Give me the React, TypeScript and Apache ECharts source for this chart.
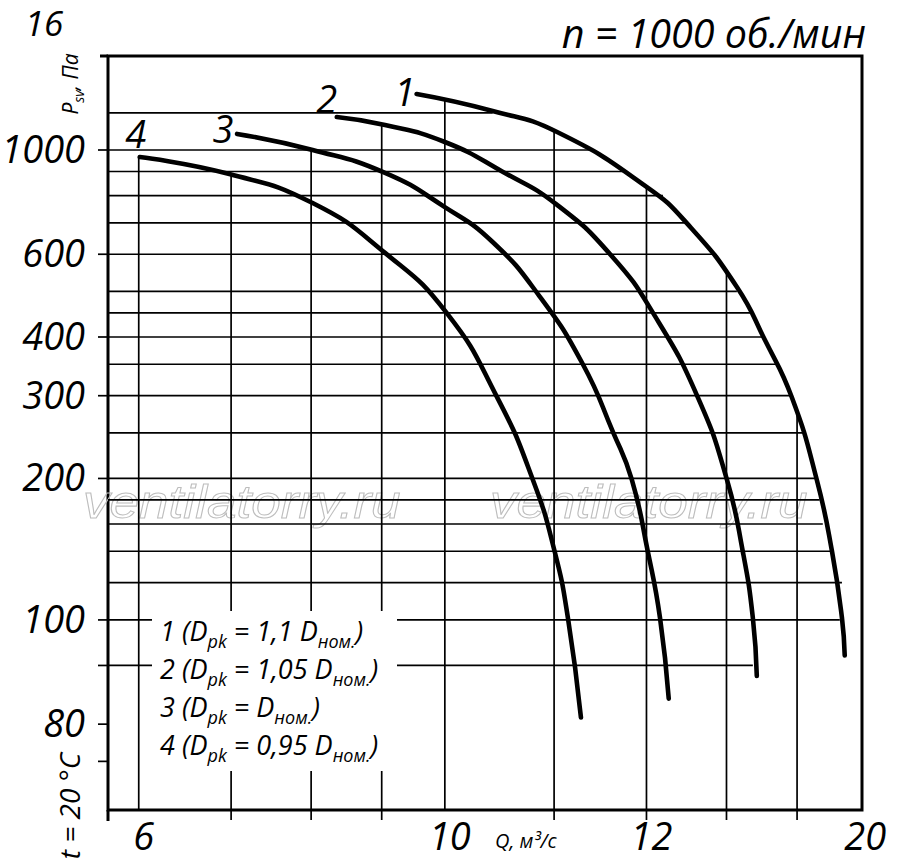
import React, { useEffect, useRef } from "react";
import * as echarts from "echarts";

// ---- axis extents (log-log) ----
const Q_MIN = 5.7;
const Q_MAX = 20.06;
const P_MIN = 39.4;
const P_MAX = 1585;

// ---- fan curves: Q (m³/s) and static pressure P (Pa) ----
const curve1Q = [9.54, 10.83, 12.06, 14.01, 15.02, 16.28, 17.06, 17.84, 18.6, 19.08, 19.4, 19.49];
const curve1P = [1316, 1211, 1092, 834, 692, 511, 394, 298, 199, 140, 101, 84];

const curve2Q = [8.35, 9.05, 10.0, 11.02, 12.06, 13.21, 14.2, 15.25, 16.01, 16.44, 16.72, 16.83];
const curve2P = [1175, 1130, 1040, 898, 764, 595, 443, 298, 199, 140, 101, 76];

const curve3Q = [7.07, 8.02, 9.05, 10.0, 10.83, 11.72, 12.59, 13.24, 13.66, 14.03, 14.32, 14.53];
const curve3P = [1082, 1000, 894, 756, 637, 487, 350, 251, 199, 140, 101, 68];

const curve4Q = [6.01, 6.98, 8.02, 9.05, 10.03, 10.91, 11.58, 12.01, 12.28, 12.55];
const curve4P = [966, 889, 771, 604, 450, 298, 199, 140, 101, 62];

const curveNames = ["1", "2", "3", "4"];

// ---- hand-drawn grid ----
// horizontal lines: pressure, and Q where the line stops
const hGridP = [1200, 1000, 900, 800, 700, 600, 500, 450, 400, 350, 300, 250, 200, 180, 160, 140, 120, 100, 80];
const hGridEndQ = [10.83, 12.8, 13.55, 14.39, 15.0, 15.69, 16.28, 16.72, 17.06, 17.4, 17.84, 18.2, 18.55, 18.69, 18.79, 19.05, 19.4, 19.33, 16.72];
// vertical lines: Q, and pressure where the line starts (top)
const vGridQ = [6, 7, 8, 9, 10, 12, 14, 16, 18];
const vGridTopP = [966, 889, 1000, 1130, 1284, 1092, 834, 547, 279];

// ticks outside the frame
const pTicks = [1000, 600, 400, 300, 200, 100, 80, 60, 50];
const qTicks = [7, 8, 9, 12, 14, 16, 18];

// tick labels exactly as printed on the original sheet
const pLabelValues = [1000, 600, 400, 300, 200, 100, 60];
const pLabelTexts = ["1000", "600", "400", "300", "200", "100", "80"];
const qLabelValues = [6, 10, 14, 20];
const qLabelTexts = ["6", "10", "12", "20"];

// legend rows: [number, coefficient text]
const legendRows = [
  ["1", " = 1,1 D"],
  ["2", " = 1,05 D"],
  ["3", " = D"],
  ["4", " = 0,95 D"],
];

// ---- layout / style (not data) ----
const GRID_LEFT = 108;
const GRID_TOP = 56;
const GRID_W = 754;
const GRID_H = 754;
const FONT = '"Open Sans", "Noto Sans", sans-serif';
const BIG = 38;
const TICK = 10;
const GRID_LW = 1.7;
const labelOffsets = [
  [-12, -3],
  [-10, -19],
  [-14, -6],
  [-4, -24],
];

const curves = [
  [curve1Q, curve1P],
  [curve2Q, curve2P],
  [curve3Q, curve3P],
  [curve4Q, curve4P],
];

function segStyle(w: number = GRID_LW) {
  return { stroke: "#000", lineWidth: w };
}

function bigText(text: string, align: string) {
  return {
    text,
    fontFamily: FONT,
    fontStyle: "italic",
    fontSize: BIG,
    fill: "#000",
    align,
    verticalAlign: "middle",
  };
}

function buildOption() {
  const series: any[] = [];

  // horizontal grid lines
  series.push({
    type: "custom",
    coordinateSystem: "cartesian2d",
    silent: true,
    z: 2,
    encode: { x: 0, y: 1 },
    data: hGridP.map((p, i) => [hGridEndQ[i], p]),
    renderItem: (params: any, api: any) => {
      const p = api.value(1);
      const a = api.coord([Q_MIN, p]);
      const b = api.coord([api.value(0), p]);
      return { type: "line", shape: { x1: a[0], y1: a[1], x2: b[0], y2: b[1] }, style: segStyle() };
    },
  });

  // vertical grid lines (with tick below the axis, except the first)
  series.push({
    type: "custom",
    coordinateSystem: "cartesian2d",
    silent: true,
    z: 2,
    encode: { x: 0, y: 1 },
    data: vGridQ.map((q, i) => [q, vGridTopP[i]]),
    renderItem: (params: any, api: any) => {
      const q = api.value(0);
      const a = api.coord([q, api.value(1)]);
      const b = api.coord([q, P_MIN]);
      const ext = qTicks.indexOf(q) >= 0 ? TICK : 0;
      return { type: "line", shape: { x1: a[0], y1: a[1], x2: b[0], y2: b[1] + ext }, style: segStyle() };
    },
  });

  // pressure ticks left of the frame
  series.push({
    type: "custom",
    coordinateSystem: "cartesian2d",
    silent: true,
    z: 2,
    encode: { x: 0, y: 1 },
    data: pTicks.map((p) => [Q_MIN, p]),
    renderItem: (params: any, api: any) => {
      const a = api.coord([Q_MIN, api.value(1)]);
      return { type: "line", shape: { x1: a[0] - TICK, y1: a[1], x2: a[0], y2: a[1] }, style: segStyle() };
    },
  });

  // pressure labels
  series.push({
    type: "custom",
    coordinateSystem: "cartesian2d",
    silent: true,
    z: 4,
    encode: { x: 0, y: 1 },
    data: pLabelValues.map((p) => [Q_MIN, p]),
    renderItem: (params: any, api: any) => {
      const a = api.coord([Q_MIN, api.value(1)]);
      return {
        type: "text",
        x: a[0] - 23,
        y: a[1] - 2,
        style: bigText(pLabelTexts[params.dataIndex], "right"),
      };
    },
  });

  // Q labels
  series.push({
    type: "custom",
    coordinateSystem: "cartesian2d",
    silent: true,
    z: 4,
    encode: { x: 0, y: 1 },
    data: qLabelValues.map((q) => [q, P_MIN]),
    renderItem: (params: any, api: any) => {
      const a = api.coord([api.value(0), P_MIN]);
      return {
        type: "text",
        x: a[0] + 5,
        y: a[1] + 25,
        style: bigText(qLabelTexts[params.dataIndex], "center"),
      };
    },
  });

  // curves
  curves.forEach(([qs, ps], k) => {
    series.push({
      type: "line",
      name: curveNames[k],
      data: qs.map((q, i) => [q, ps[i]]),
      smooth: 0.5,
      showSymbol: false,
      symbol: "none",
      silent: true,
      z: 3,
      lineStyle: { color: "#000", width: 4.6, cap: "round", join: "round" },
    });
  });

  // curve numbers at the start of each curve
  series.push({
    type: "custom",
    coordinateSystem: "cartesian2d",
    silent: true,
    z: 4,
    encode: { x: 0, y: 1 },
    data: curves.map(([qs, ps]) => [qs[0], ps[0]]),
    renderItem: (params: any, api: any) => {
      const i = params.dataIndex;
      const a = api.coord([api.value(0), api.value(1)]);
      return {
        type: "text",
        x: a[0] + labelOffsets[i][0],
        y: a[1] + labelOffsets[i][1],
        style: bigText(curveNames[i], "center"),
      };
    },
  });

  const mainRich = { fontFamily: FONT, fontStyle: "italic", fontSize: 27, lineHeight: 33, verticalAlign: "top", fill: "#000" };
  const subRich = { fontFamily: FONT, fontStyle: "italic", fontSize: 18, lineHeight: 18, verticalAlign: "bottom", fill: "#000" };

  const legendTexts = legendRows.map(([n, coef], i) => ({
    type: "text",
    x: 160,
    y: 617 + i * 38,
    z: 6,
    silent: true,
    style: {
      text: `{m|${n} (D}{b|pk}{m|${coef}}{b|ном.}{m|)}`,
      rich: { m: mainRich, b: subRich },
      align: "left",
      verticalAlign: "top",
    },
  }));

  const watermark = (x: number) => ({
    type: "text",
    x,
    y: 526,
    scaleX: 1.13,
    z: 0,
    silent: true,
    style: {
      text: "ventilatorry.ru",
      fontFamily: '"Liberation Sans", Arial, sans-serif',
      fontStyle: "italic",
      fontSize: 47,
      fill: "rgba(255,255,255,0)",
      stroke: "#bdbdbd",
      lineWidth: 1,
      align: "left",
      verticalAlign: "bottom",
    },
  });

  return {
    animation: false,
    backgroundColor: "#fff",
    grid: {
      left: GRID_LEFT,
      top: GRID_TOP,
      width: GRID_W,
      height: GRID_H,
      show: true,
      borderColor: "#000",
      borderWidth: 3,
      backgroundColor: "transparent",
    },
    xAxis: {
      type: "log",
      logBase: 10,
      min: Q_MIN,
      max: Q_MAX,
      axisLine: { show: false },
      axisTick: { show: false },
      axisLabel: { show: false },
      splitLine: { show: false },
    },
    yAxis: {
      type: "log",
      logBase: 10,
      min: P_MIN,
      max: P_MAX,
      axisLine: { show: false },
      axisTick: { show: false },
      axisLabel: { show: false },
      splitLine: { show: false },
    },
    graphic: [
      watermark(83),
      watermark(490),
      // frame stubs
      {
        type: "line",
        z: 5,
        silent: true,
        shape: { x1: GRID_LEFT - 8, y1: GRID_TOP, x2: GRID_LEFT, y2: GRID_TOP },
        style: { stroke: "#000", lineWidth: 3 },
      },
      {
        type: "line",
        z: 5,
        silent: true,
        shape: { x1: GRID_LEFT, y1: GRID_TOP + GRID_H, x2: GRID_LEFT, y2: GRID_TOP + GRID_H + 11 },
        style: { stroke: "#000", lineWidth: 3 },
      },
      // white box behind the legend
      {
        type: "rect",
        z: 5,
        silent: true,
        shape: { x: 152, y: 611, width: 245, height: 160 },
        style: { fill: "#fff" },
      },
      ...legendTexts,
      {
        type: "text",
        x: 44,
        y: 22,
        z: 6,
        silent: true,
        style: { text: "16", fontFamily: FONT, fontStyle: "italic", fontSize: 35, fill: "#000", align: "center", verticalAlign: "middle" },
      },
      {
        type: "text",
        x: 866,
        y: 33,
        z: 6,
        silent: true,
        style: {
          text: "n = 1000 об./мин",
          fontFamily: FONT,
          fontStyle: "italic",
          fontSize: 39.5,
          fill: "#000",
          align: "right",
          verticalAlign: "middle",
        },
      },
      {
        type: "text",
        x: 72,
        y: 84,
        rotation: Math.PI / 2,
        z: 6,
        silent: true,
        style: {
          text: "{m|P}{b|sv}{m|, Па}",
          rich: {
            m: { fontFamily: FONT, fontStyle: "italic", fontSize: 21, lineHeight: 26, verticalAlign: "top", fill: "#000" },
            b: { fontFamily: FONT, fontStyle: "italic", fontSize: 14, lineHeight: 14, verticalAlign: "bottom", fill: "#000" },
          },
          align: "center",
          verticalAlign: "middle",
        },
      },
      {
        type: "text",
        x: 69,
        y: 806,
        rotation: Math.PI / 2,
        z: 6,
        silent: true,
        style: {
          text: "t = 20 °C",
          fontFamily: FONT,
          fontStyle: "italic",
          fontSize: 28,
          fill: "#000",
          align: "center",
          verticalAlign: "middle",
        },
      },
      {
        type: "text",
        x: 495,
        y: 840,
        z: 6,
        silent: true,
        style: {
          text: "Q, м³/с",
          fontFamily: FONT,
          fontStyle: "italic",
          fontSize: 20,
          fill: "#000",
          align: "left",
          verticalAlign: "middle",
        },
      },
    ],
    series,
  };
}

export default function App() {
  const ref = useRef<HTMLDivElement>(null);
  useEffect(() => {
    if (!ref.current) return;
    const chart = echarts.init(ref.current, undefined, { renderer: "svg" });
    chart.setOption(buildOption() as any);
    return () => chart.dispose();
  }, []);
  return (
    <div
      ref={ref}
      style={{ position: "absolute", left: 0, top: 0, width: 900, height: 864, background: "#fff" }}
    />
  );
}
